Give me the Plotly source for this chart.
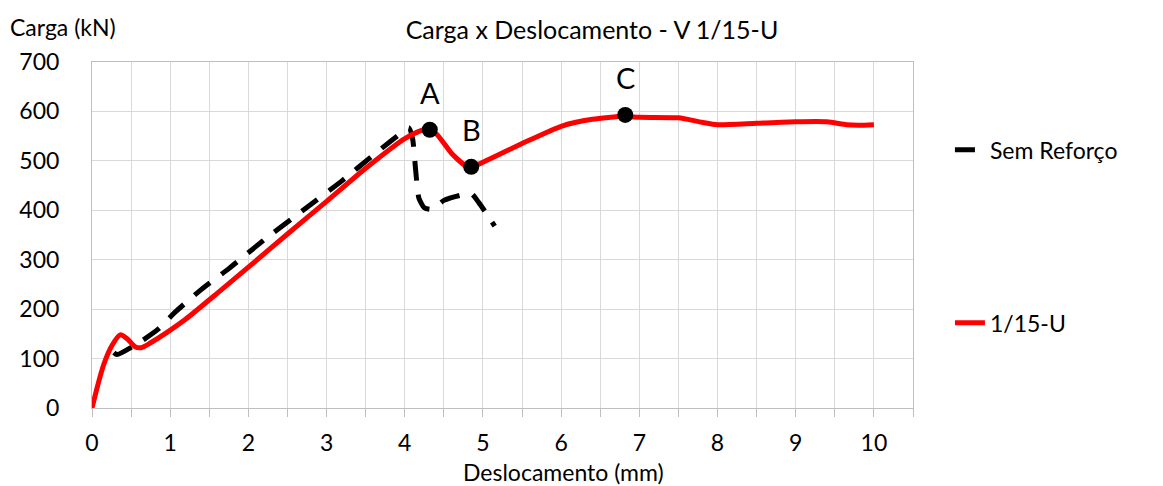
import plotly.graph_objects as go

# Red curve: 1/15-U
ref_x = [0.0, 0.08, 0.15, 0.25, 0.36, 0.45, 0.55, 0.63, 0.75, 0.95, 1.2, 1.6, 2.0, 2.5,
         3.0, 3.5, 4.0, 4.25, 4.4, 4.6, 4.8, 4.9, 5.1, 5.5, 6.0, 6.4, 6.8, 7.0, 7.5,
         7.8, 8.0, 8.5, 9.0, 9.4, 9.65, 9.8, 10.0]
ref_y = [0, 50, 88, 125, 148, 140, 124, 122, 132, 152, 180, 232, 285, 352,
         418, 485, 545, 563, 555, 515, 488, 490, 505, 535, 570, 584, 590, 588, 587,
         578, 573, 576, 579, 579, 573, 572, 573]

# Black dashed: Sem Reforço
sem_x = [0.28, 0.32, 0.6, 0.85, 1.05, 1.4, 1.75, 2.2, 2.7, 3.2, 3.6, 3.9, 4.05,
         4.1, 4.14, 4.18, 4.25, 4.35, 4.5, 4.7, 4.85, 4.95, 5.05, 5.15]
sem_y = [112, 108, 132, 160, 192, 240, 282, 340, 400, 460, 512, 550, 567,
         545, 480, 425, 405, 402, 420, 430, 434, 415, 392, 368]

# Marked points
pt_x = [4.32, 4.85, 6.82]
pt_y = [563, 488, 593]
pt_lbl = ["A", "B", "C"]

FONT = "Lato, Open Sans, sans-serif"

fig = go.Figure()

fig.add_trace(go.Scatter(
    x=sem_x, y=sem_y, mode="lines", name="Sem Reforço",
    line=dict(color="black", width=5, dash="20px,14px", shape="spline", smoothing=0.6),
    legend="legend",
))
fig.add_trace(go.Scatter(
    x=ref_x, y=ref_y, mode="lines", name="1/15-U",
    line=dict(color="#ff0000", width=5, shape="spline", smoothing=0.6),
    legend="legend2",
))
fig.add_trace(go.Scatter(
    x=pt_x, y=pt_y, mode="markers",
    marker=dict(color="black", size=16), showlegend=False, hoverinfo="skip",
))

# point letters
notes = [dict(x=x, y=y, text=t, showarrow=False, yanchor="bottom", yshift=18,
              font=dict(size=29, color="black")) for x, y, t in zip(pt_x, pt_y, pt_lbl)]
notes.append(dict(text="Carga (kN)", xref="paper", yref="paper", x=-0.102, y=1.101,
                  xanchor="left", yanchor="middle", showarrow=False, font=dict(size=23)))
notes.append(dict(text="Deslocamento (mm)", xref="paper", yref="paper", x=0.574, y=-0.185,
                  xanchor="center", yanchor="middle", showarrow=False, font=dict(size=23)))

# page body adds an 8px offset, so the figure is shrunk and shifted to match
fig.update_layout(
    width=1155, height=478,
    plot_bgcolor="white", paper_bgcolor="white",
    margin=dict(l=84, r=250, t=54, b=78),
    font=dict(family=FONT, size=23, color="black"),
    title=dict(text="Carga x Deslocamento - V 1/15-U", xref="paper", x=0.609,
               xanchor="center", y=0.954, yanchor="middle", font=dict(size=25)),
    xaxis=dict(
        range=[0, 10.5], tickvals=list(range(0, 11)), showgrid=False,
        ticks="outside", ticklen=8, tickcolor="#bfbfbf", ticklabelstandoff=6,
        minor=dict(dtick=0.5, tick0=0, showgrid=True, gridcolor="#d9d9d9", gridwidth=1,
                   ticks="outside", ticklen=8, tickcolor="#bfbfbf"),
        showline=True, linecolor="#bfbfbf", mirror=True, zeroline=False,
    ),
    yaxis=dict(
        range=[0, 700], dtick=100, showgrid=True, gridcolor="#d9d9d9",
        showline=True, linecolor="#bfbfbf", mirror=True, zeroline=False,
        ticks="", ticklabelstandoff=27,
    ),
    legend=dict(x=1.045, y=0.746, xanchor="left", yanchor="middle",
                font=dict(size=23), bgcolor="rgba(0,0,0,0)"),
    legend2=dict(x=1.045, y=0.246, xanchor="left", yanchor="middle",
                 font=dict(size=23), bgcolor="rgba(0,0,0,0)"),
    annotations=notes,
)

fig.write_html("out.html")
